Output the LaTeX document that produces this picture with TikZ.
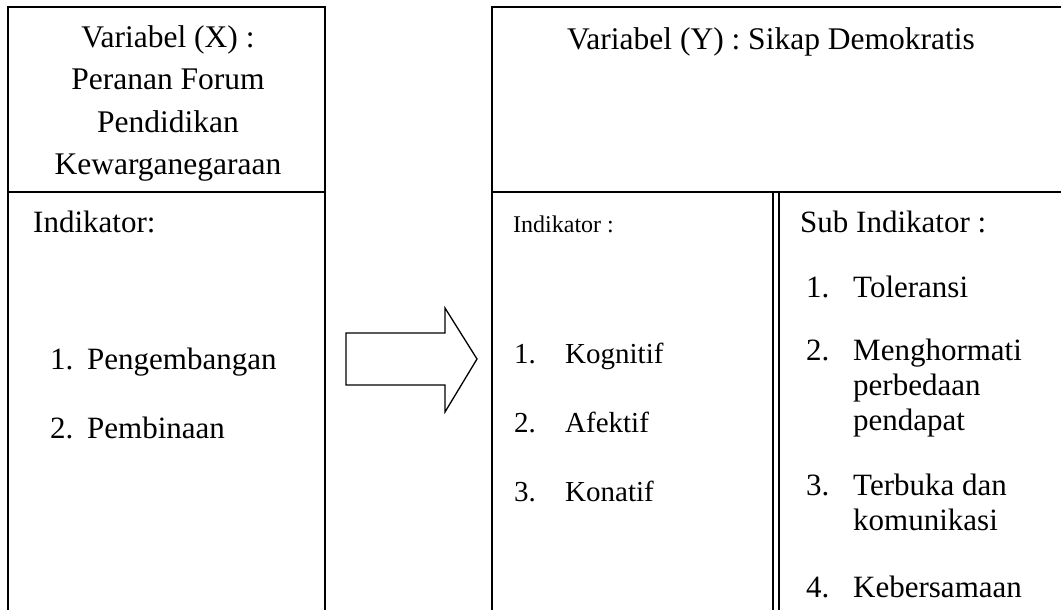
\documentclass[tikz,border=0pt]{standalone}
\usepackage{fontspec}
\setmainfont{Liberation Serif}
\usetikzlibrary{positioning}
\tikzset{
  frame/.style={draw, line width=1.3pt},
  dbl/.style={draw, line width=1.1pt},
  bigarrow/.style={draw, line width=1.3pt, line join=miter, fill=white},
  ttl/.style={inner sep=0pt, anchor=base, font=\fontsize{31.5}{36}\selectfont},
  lbl/.style={inner sep=0pt, anchor=base west, font=\fontsize{31}{36}\selectfont},
  lblsmall/.style={inner sep=0pt, anchor=base west, font=\fontsize{24}{30}\selectfont},
  item/.style={inner sep=0pt, anchor=base west, font=\fontsize{29}{36}\selectfont},
  subitem/.style={inner sep=0pt, anchor=base west, font=\fontsize{31}{36}\selectfont}
}
\begin{document}
\begin{tikzpicture}[x=1pt,y=-1pt]
  \useasboundingbox (0,0) rectangle (1061,610);
  \clip (0,0) rectangle (1061,610);
  % box of variable X
  \draw[frame] (8,620) -- (8,7) -- (325,7) -- (325,620);
  \draw[frame] (8,192) -- (325,192);
  \foreach \t [count=\i] in {Variabel (X) :, Peranan Forum, Pendidikan, Kewarganegaraan}
    \node[ttl] (varx\i) at (168,{48+42*(\i-1)}) {\t};
  \node[lbl] (indx) at (33,232) {Indikator:};
  \node[lbl] (nx1) at (50,369) {1.};
  \node[lbl] (ix1) at (87,369) {Pengembangan};
  \node[lbl] (nx2) at (50,438) {2.};
  \node[lbl] (ix2) at (87,438) {Pembinaan};
  % block arrow
  \draw[bigarrow] (346,333) -- (445,333) -- (445,308) -- (477,359)
    -- (445,412) -- (445,385) -- (346,385) -- cycle;
  % box of variable Y
  \draw[frame] (492,620) -- (492,7) -- (1075,7);
  \draw[frame] (492,192) -- (1075,192);
  \draw[dbl] (773,192) -- (773,620);
  \draw[dbl] (779,192) -- (779,620);
  \node[ttl] (vary) at (771,50) {Variabel (Y) : Sikap Demokratis};
  \node[lblsmall] (indy) at (513,232) {Indikator :};
  \foreach \t [count=\i] in {Kognitif, Afektif, Konatif}{
    \node[item] (ny\i) at (514,{363+69*(\i-1)}) {\i.};
    \node[item] (iy\i) at (565,{363+69*(\i-1)}) {\t};
  }
  \node[lbl] (subind) at (800,232) {Sub Indikator :};
  \node[subitem] (ns1) at (806,297) {1.};
  \node[subitem] (is1) at (853,297) {Toleransi};
  \node[subitem] (ns2) at (806,360) {2.};
  \node[subitem] (is2a) at (853,360) {Menghormati};
  \node[subitem] (is2b) at (853,395) {perbedaan};
  \node[subitem] (is2c) at (853,430) {pendapat};
  \node[subitem] (ns3) at (806,495) {3.};
  \node[subitem] (is3a) at (853,495) {Terbuka dan};
  \node[subitem] (is3b) at (853,530) {komunikasi};
  \node[subitem] (ns4) at (806,597) {4.};
  \node[subitem] (is4) at (853,597) {Kebersamaan};
\end{tikzpicture}
\end{document}
